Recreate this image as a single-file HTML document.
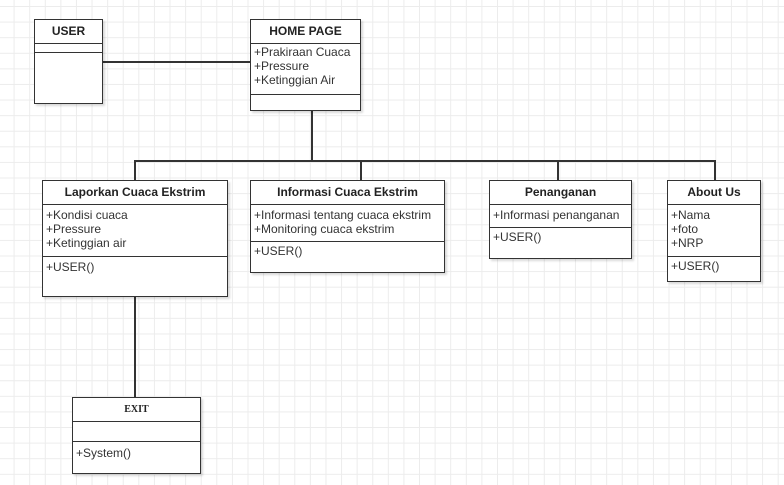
<!DOCTYPE html>
<html><head><style>
body{margin:0;width:784px;height:485px;overflow:hidden;background:#fff;
background-image:linear-gradient(#ececec 1px,transparent 1px),linear-gradient(90deg,#ececec 1px,transparent 1px);
background-size:15.6px 15.6px;background-position:-2px 6px;font-family:"Liberation Sans",sans-serif;position:relative}
.b{position:absolute;border:1px solid #333;background:#fff;box-shadow:2px 2px 2px rgba(0,0,0,.15);box-sizing:border-box}
.h{font-weight:bold;font-size:12px;text-align:center;color:#222;border-bottom:1px solid #333;box-sizing:border-box;padding-top:4px}
.s{font-size:12px;color:#333;line-height:14px;padding-left:3px;border-bottom:1px solid #333;box-sizing:border-box;white-space:nowrap;overflow:hidden}
.l{position:absolute;background:#333}
</style></head><body>
<div class="l" style="left:102px;top:61px;width:148px;height:2px"></div>
<div class="l" style="left:311px;top:110px;width:2px;height:51px"></div>
<div class="l" style="left:134px;top:160px;width:582px;height:1.5px"></div>
<div class="l" style="left:134px;top:160px;width:1.5px;height:20px"></div>
<div class="l" style="left:360px;top:160px;width:1.5px;height:20px"></div>
<div class="l" style="left:557px;top:160px;width:1.5px;height:20px"></div>
<div class="l" style="left:714px;top:160px;width:1.5px;height:20px"></div>
<div class="l" style="left:134px;top:296px;width:1.5px;height:101px"></div>

<div class="b" style="left:34px;top:19px;width:69px;height:85px">
<div class="h" style="height:24px">USER</div><div class="s" style="height:9px"></div></div>

<div class="b" style="left:250px;top:19px;width:111px;height:92px">
<div class="h" style="height:24px">HOME PAGE</div>
<div class="s" style="height:51px;padding-top:1px">+Prakiraan Cuaca<br>+Pressure<br>+Ketinggian Air</div></div>

<div class="b" style="left:42px;top:180px;width:186px;height:117px">
<div class="h" style="height:24px">Laporkan Cuaca Ekstrim</div>
<div class="s" style="height:52px;padding-top:3px">+Kondisi cuaca<br>+Pressure<br>+Ketinggian air</div>
<div class="s" style="border:0;padding-top:3px">+USER()</div></div>

<div class="b" style="left:250px;top:180px;width:195px;height:93px">
<div class="h" style="height:24px">Informasi Cuaca Ekstrim</div>
<div class="s" style="height:37px;padding-top:3px">+Informasi tentang cuaca ekstrim<br>+Monitoring cuaca ekstrim</div>
<div class="s" style="border:0;padding-top:2px">+USER()</div></div>

<div class="b" style="left:489px;top:180px;width:143px;height:79px">
<div class="h" style="height:24px">Penanganan</div>
<div class="s" style="height:23px;padding-top:3px">+Informasi penanganan</div>
<div class="s" style="border:0;padding-top:2px">+USER()</div></div>

<div class="b" style="left:667px;top:180px;width:94px;height:102px">
<div class="h" style="height:24px">About Us</div>
<div class="s" style="height:52px;padding-top:3px">+Nama<br>+foto<br>+NRP</div>
<div class="s" style="border:0;padding-top:2px">+USER()</div></div>

<div class="b" style="left:72px;top:397px;width:129px;height:77px">
<div class="h" style="height:24px;font-family:'Liberation Serif',serif;font-size:10px;padding-top:6px">EXIT</div>
<div class="s" style="height:20px"></div>
<div class="s" style="border:0;padding-top:4px">+System()</div></div>
</body></html>
